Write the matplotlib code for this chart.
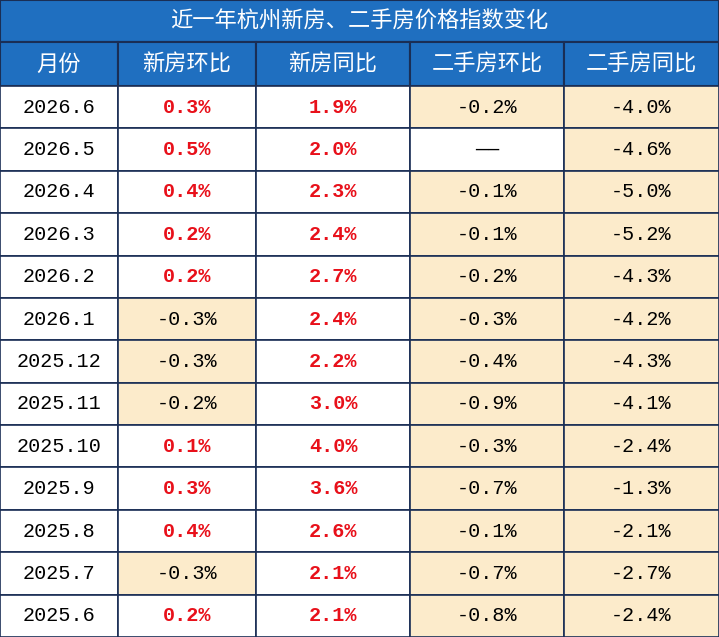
import matplotlib.pyplot as plt
from matplotlib.patches import Rectangle

title = '近一年杭州新房、二手房价格指数变化'
headers = ['月份', '新房环比', '新房同比', '二手房环比', '二手房同比']
months = ['2026.6', '2026.5', '2026.4', '2026.3', '2026.2', '2026.1', '2025.12',
          '2025.11', '2025.10', '2025.9', '2025.8', '2025.7', '2025.6']
new_mom = [0.3, 0.5, 0.4, 0.2, 0.2, -0.3, -0.3, -0.2, 0.1, 0.3, 0.4, -0.3, 0.2]
new_yoy = [1.9, 2.0, 2.3, 2.4, 2.7, 2.4, 2.2, 3.0, 4.0, 3.6, 2.6, 2.1, 2.1]
old_mom = [-0.2, None, -0.1, -0.1, -0.2, -0.3, -0.4, -0.9, -0.3, -0.7, -0.1, -0.7, -0.8]
old_yoy = [-4.0, -4.6, -5.0, -5.2, -4.3, -4.2, -4.3, -4.1, -2.4, -1.3, -2.1, -2.7, -2.4]

blue = '#1F6FC0'
beige = '#FCEBCB'
line = '#1A2E55'
cjk = ['Noto Sans CJK SC', 'DejaVu Sans']
num_font = ['Liberation Mono', 'DejaVu Sans Mono']

W, H = 719, 637
xs = [0, 118, 256, 410, 564, 719]
title_h, head_h = 42, 44
row_h = (H - title_h - head_h) / len(months)

fig = plt.figure(figsize=(W / 100, H / 100), dpi=100)
ax = fig.add_axes([0, 0, 1, 1])
ax.set_xlim(0, W)
ax.set_ylim(H, 0)
ax.axis('off')

# title bar
ax.add_patch(Rectangle((0, 0), W, title_h, fc=blue, ec=line, lw=1.5))
ax.text(W / 2, title_h / 2, title, color='white', fontsize=16, family=cjk,
        ha='center', va='center')
# header
for j, h in enumerate(headers):
    ax.add_patch(Rectangle((xs[j], title_h), xs[j + 1] - xs[j], head_h, fc=blue, ec=line, lw=1.5))
    ax.text((xs[j] + xs[j + 1]) / 2, title_h + head_h / 2, h, color='white', fontsize=16,
            family=cjk, fontweight='medium', ha='center', va='center')

cols = [new_mom, new_yoy, old_mom, old_yoy]
for i, m in enumerate(months):
    y0 = title_h + head_h + i * row_h
    yc = y0 + row_h / 2
    ax.add_patch(Rectangle((xs[0], y0), xs[1] - xs[0], row_h, fc='white', ec=line, lw=1.2))
    ax.text((xs[0] + xs[1]) / 2, yc, m, fontsize=14.5, family=num_font, ha='center', va='center')
    for j, col in enumerate(cols):
        v = col[i]
        x0, x1 = xs[j + 1], xs[j + 2]
        fc = beige if (v is not None and v < 0) else 'white'
        ax.add_patch(Rectangle((x0, y0), x1 - x0, row_h, fc=fc, ec=line, lw=1.2))
        if v is None:
            s, c, w = '——', 'black', 'normal'
        elif v > 0:
            s, c, w = f'{v:.1f}%', '#E8101A', 'bold'
        else:
            s, c, w = f'{v:.1f}%', 'black', 'normal'
        ax.text((x0 + x1) / 2, yc, s, fontsize=14.5, family=num_font, color=c,
                fontweight=w, ha='center', va='center')

fig.savefig('out.png', dpi=100)
